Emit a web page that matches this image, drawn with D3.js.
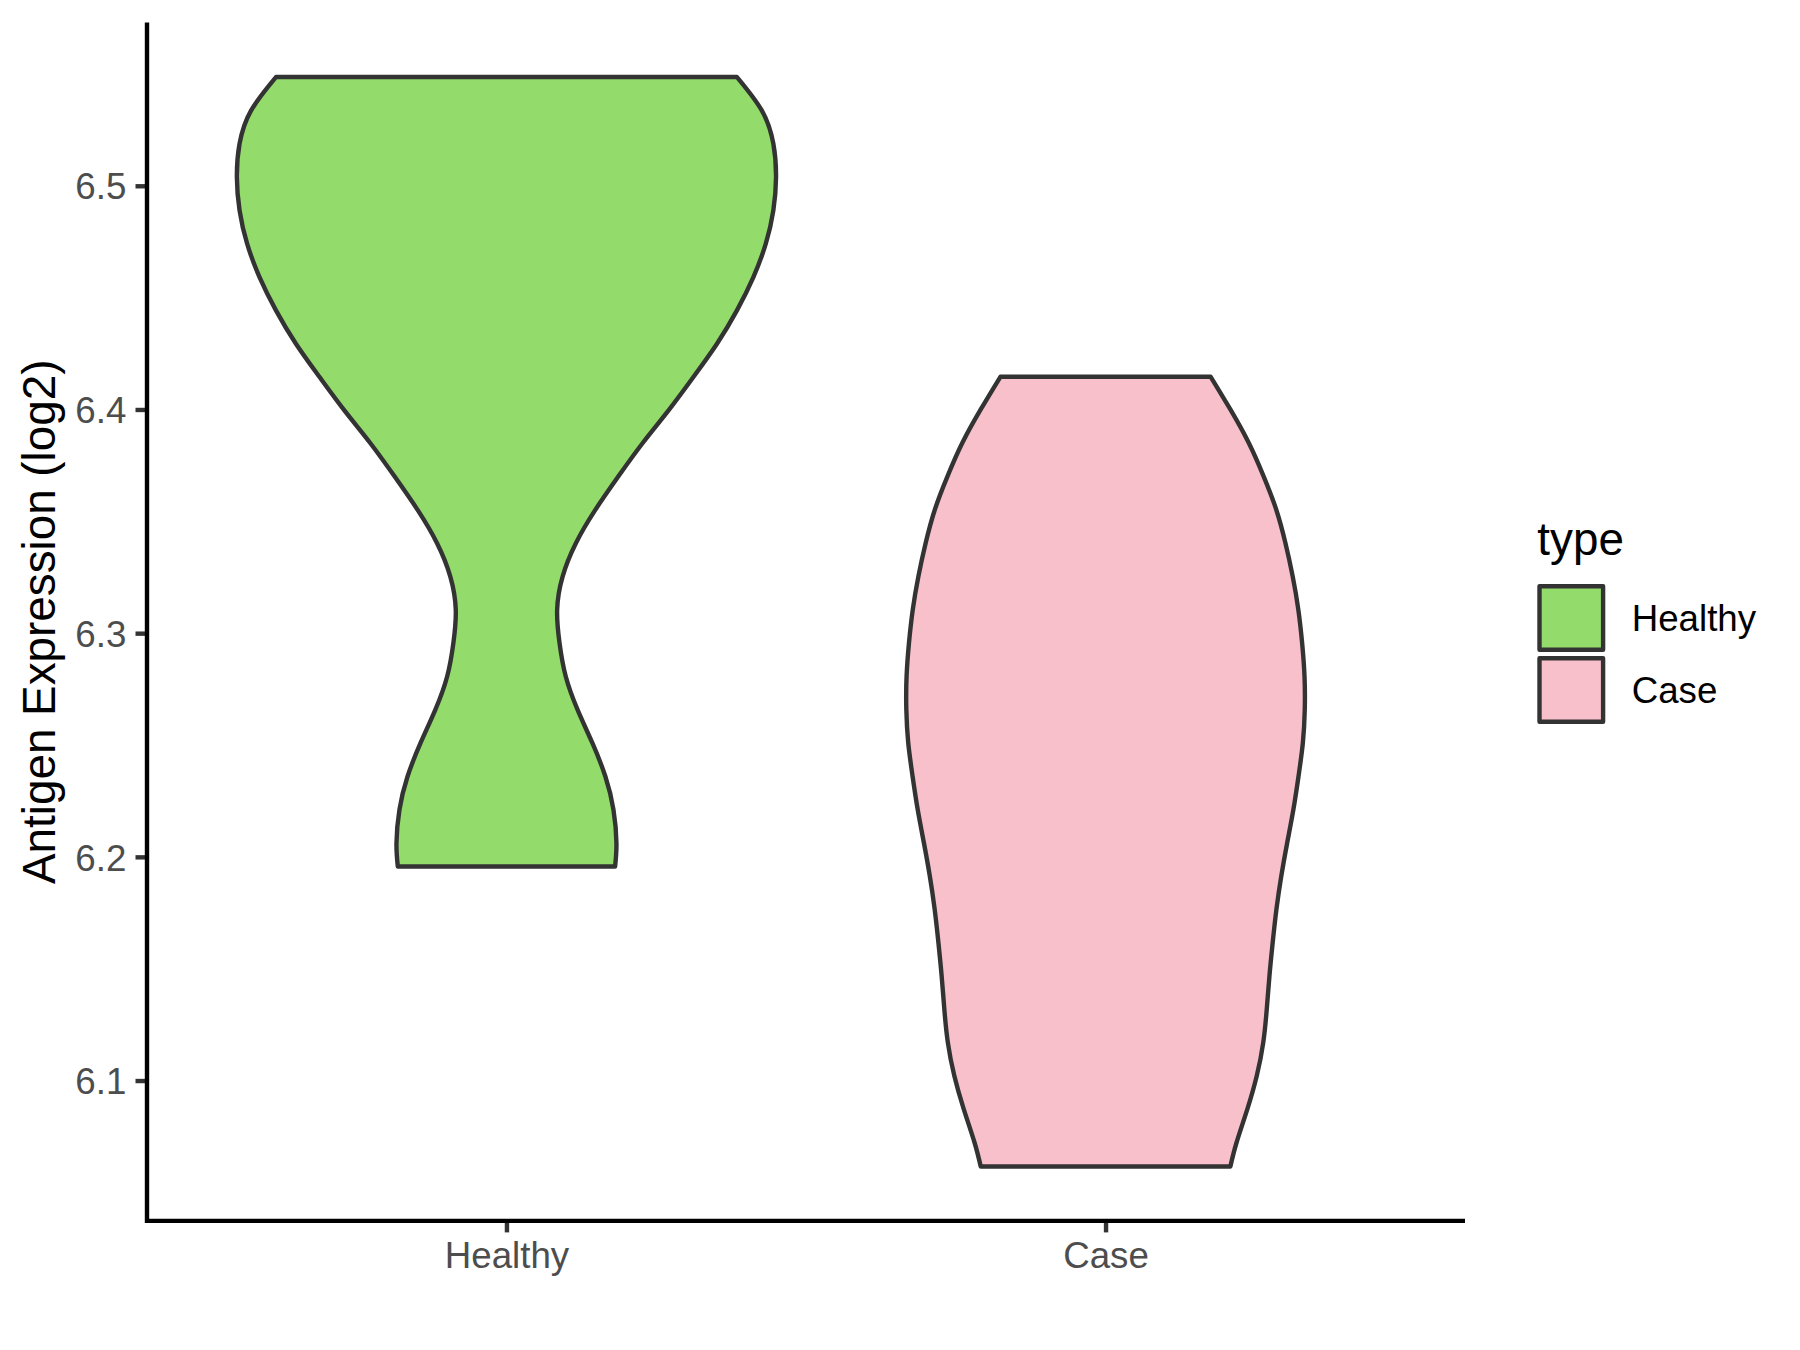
<!DOCTYPE html>
<html>
<head>
<meta charset="utf-8">
<script src="https://cdn.jsdelivr.net/npm/d3@7"></script>
<style>
  html, body { margin: 0; padding: 0; background: #ffffff; }
  svg { display: block; font-family: "Liberation Sans", Arial, sans-serif; }
</style>
</head>
<body>
<svg id="chart" width="1800" height="1350"></svg>
<script>
// ---- data ----
const categories = ["Healthy", "Case"];
const fillColors = ["#93DB6B", "#F8C0CB"];
const yTicks = [6.1, 6.2, 6.3, 6.4, 6.5];
const yTitle = "Antigen Expression (log2)";
const legendTitle = "type";

// violin outlines: expression value and relative density width (1 = widest)
const healthyY = [6.5486, 6.5337, 6.5188, 6.5039, 6.4890, 6.4741, 6.4592, 6.4443, 6.4294, 6.4146, 6.3997, 6.3848, 6.3699, 6.3550, 6.3401, 6.3252, 6.3104, 6.2955, 6.2806, 6.2657, 6.2508, 6.2359, 6.2210, 6.2061, 6.1957];
const healthyW = [0.855, 0.947, 0.990, 1.000, 0.990, 0.962, 0.916, 0.855, 0.781, 0.694, 0.602, 0.504, 0.414, 0.329, 0.257, 0.208, 0.188, 0.197, 0.220, 0.264, 0.319, 0.367, 0.397, 0.408, 0.403];
const caseY = [6.4146, 6.4000, 6.3851, 6.3702, 6.3553, 6.3404, 6.3255, 6.3106, 6.2958, 6.2808, 6.2660, 6.2511, 6.2362, 6.2213, 6.2064, 6.1915, 6.1767, 6.1617, 6.1468, 6.1319, 6.1170, 6.1021, 6.0872, 6.0723, 6.0616];
const caseW = [0.390, 0.463, 0.531, 0.586, 0.633, 0.667, 0.694, 0.715, 0.729, 0.738, 0.739, 0.732, 0.716, 0.697, 0.674, 0.652, 0.634, 0.620, 0.608, 0.598, 0.585, 0.561, 0.526, 0.486, 0.463];

const violins = [
  { cat: categories[0], ys: healthyY, ws: healthyW, fill: fillColors[0] },
  { cat: categories[1], ys: caseY, ws: caseW, fill: fillColors[1] }
];

// ---- layout ----
const panel = { left: 147, right: 1465, top: 22.6, bottom: 1220.9 };
const lw = 4.4;

const svg = d3.select("#chart");

const allY = healthyY.concat(caseY);
const yMin = d3.min(allY), yMax = d3.max(allY);
const pad = (yMax - yMin) * 0.05;
const y = d3.scaleLinear().domain([yMin - pad, yMax + pad]).range([panel.bottom, panel.top]);
const x = d3.scalePoint().domain(categories).range([panel.left, panel.right]).padding(0.6);
const halfW = d3.scaleLinear().domain([0, 1]).range([0, 0.45 * x.step()]);

// violins
violins.forEach(v => {
  const pts = v.ys.map((yy, i) => ({ v: yy, w: v.ws[i] }));
  const cx = x(v.cat);
  const area = d3.area()
    .y(d => y(d.v))
    .x0(d => cx - halfW(d.w))
    .x1(d => cx + halfW(d.w))
    .curve(d3.curveNatural);
  svg.append("path")
    .attr("d", area(pts))
    .attr("fill", v.fill)
    .attr("stroke", "#333333")
    .attr("stroke-width", lw)
    .attr("stroke-linejoin", "round");
});

// y axis
const yAxis = d3.axisLeft(y).tickValues(yTicks).tickFormat(d3.format(".1f"))
  .tickSize(11.5).tickSizeOuter(0).tickPadding(9.2);
const gy = svg.append("g").attr("transform", `translate(${panel.left},0)`).call(yAxis);
gy.select(".domain").remove();
gy.selectAll(".tick line").attr("stroke", "#333333").attr("stroke-width", lw);
gy.selectAll(".tick text").attr("fill", "#4D4D4D").attr("font-size", 36.7)
  .attr("font-family", "Liberation Sans, Arial, sans-serif").attr("dy", "0.36em");

// x axis
const xAxis = d3.axisBottom(x).tickSize(11.5).tickSizeOuter(0).tickPadding(9.2);
const gx = svg.append("g").attr("transform", `translate(0,${panel.bottom})`).call(xAxis);
gx.select(".domain").remove();
gx.selectAll(".tick line").attr("stroke", "#333333").attr("stroke-width", lw);
gx.selectAll(".tick text").attr("fill", "#4D4D4D").attr("font-size", 36.7)
  .attr("font-family", "Liberation Sans, Arial, sans-serif").attr("dy", "0.71em");

// axis lines
svg.append("line").attr("x1", panel.left).attr("x2", panel.left)
  .attr("y1", panel.top).attr("y2", panel.bottom + lw / 2)
  .attr("stroke", "#000").attr("stroke-width", lw);
svg.append("line").attr("x1", panel.left).attr("x2", panel.right)
  .attr("y1", panel.bottom).attr("y2", panel.bottom)
  .attr("stroke", "#000").attr("stroke-width", lw);

// y title
svg.append("text")
  .attr("transform", `translate(55,${(panel.top + panel.bottom) / 2}) rotate(-90)`)
  .attr("text-anchor", "middle")
  .attr("font-size", 45.8)
  .attr("fill", "#000")
  .text(yTitle);

// legend
const lg = svg.append("g");
lg.append("text").attr("x", 1537.3).attr("y", 555).attr("font-size", 45.8).attr("fill", "#000").text(legendTitle);
categories.forEach((c, i) => {
  const top = 584 + i * 72;
  lg.append("rect")
    .attr("x", 1539.5).attr("y", top + 2.2)
    .attr("width", 63.6).attr("height", 63.6)
    .attr("fill", fillColors[i]).attr("stroke", "#333333").attr("stroke-width", lw)
    .attr("stroke-linejoin", "round");
  lg.append("text").attr("x", 1631.7).attr("y", top + 34 + 13)
    .attr("font-size", 36.7).attr("fill", "#000").text(c);
});
</script>
</body>
</html>
